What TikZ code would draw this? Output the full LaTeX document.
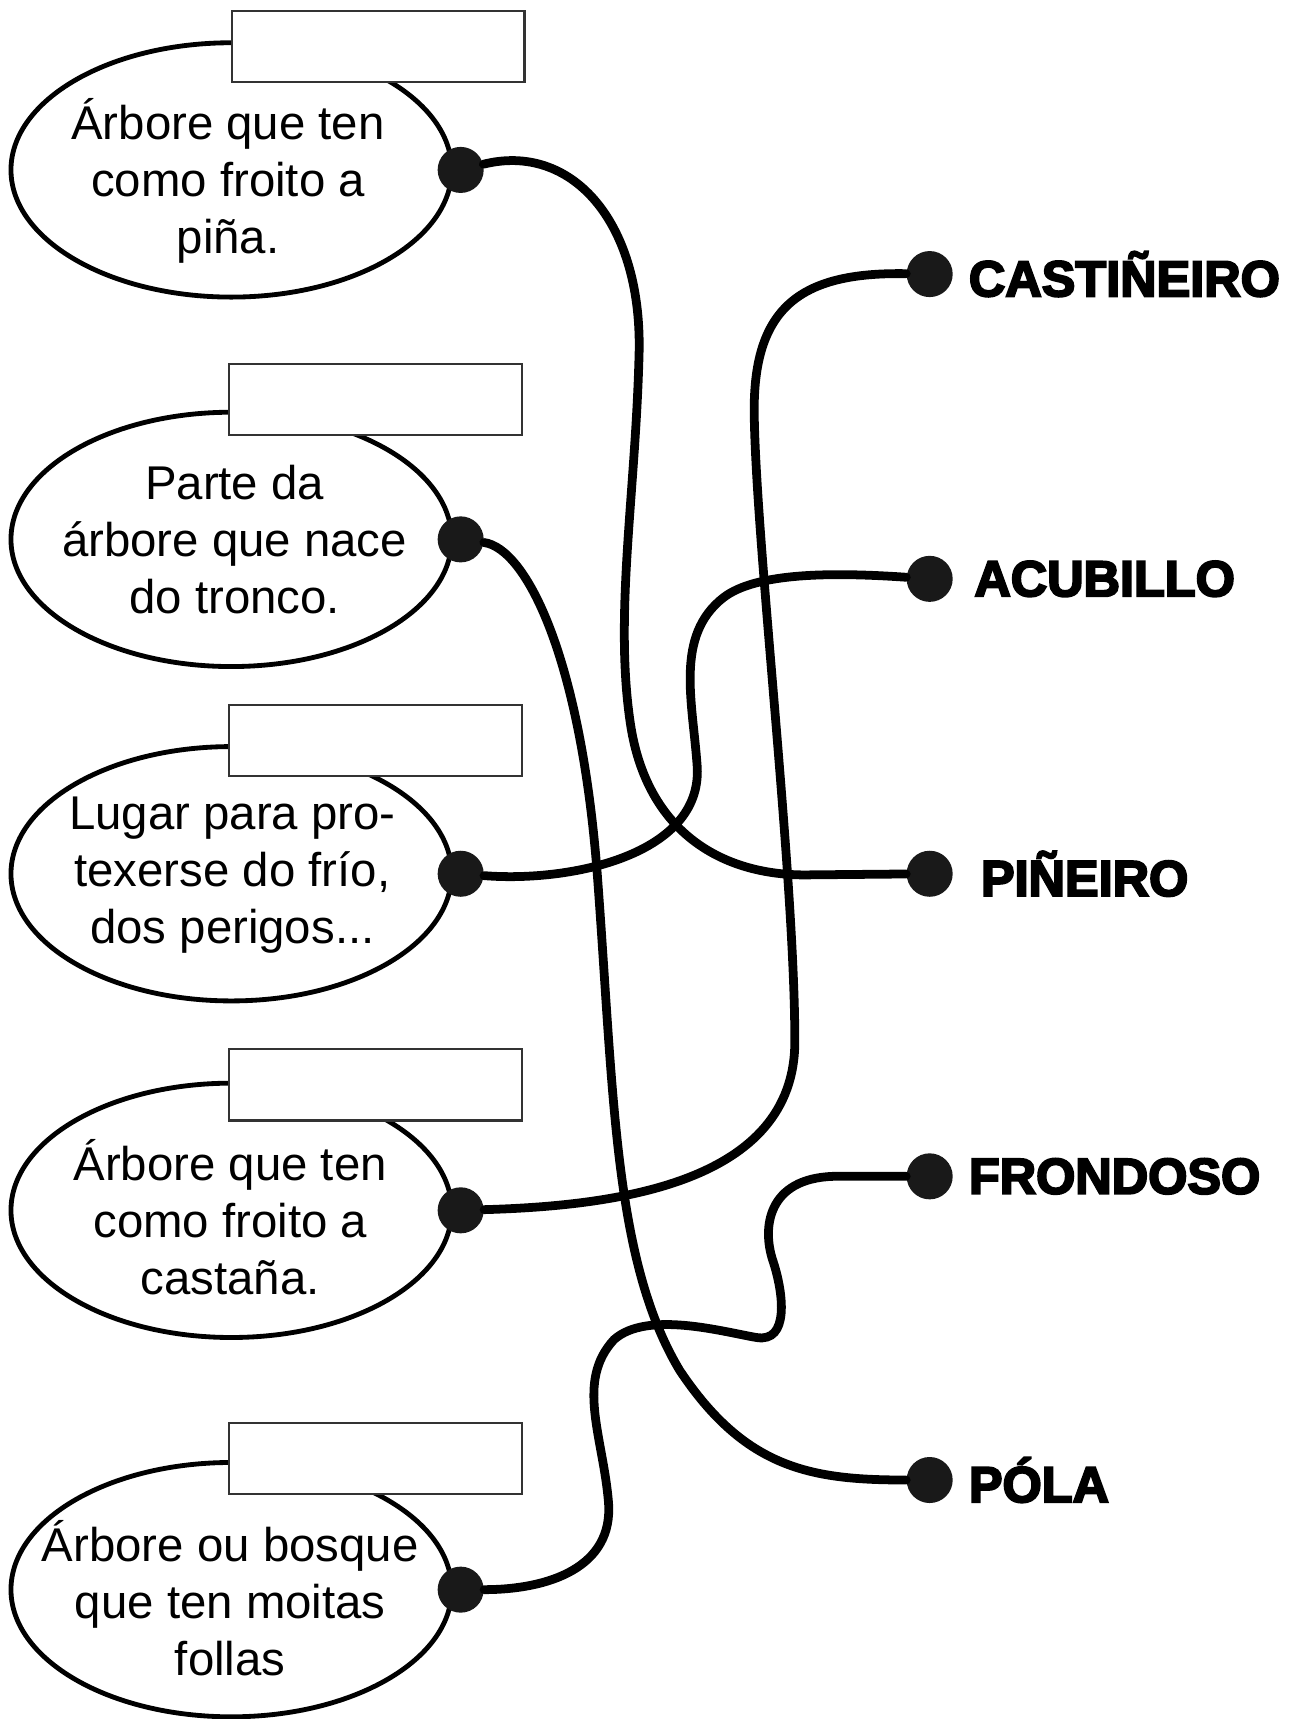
\documentclass[tikz,border=0pt]{standalone}
\usepackage{fontspec}
\setmainfont{Liberation Sans}
\newfontfamily\heavyfont[FakeBold=4]{Liberation Sans Bold}
\usetikzlibrary{shapes.geometric,positioning}

\begin{document}
\begin{tikzpicture}[x=0.5pt, y=0.5pt,
        bubble/.style={ellipse, draw, line width=2.2pt, minimum width=201pt, minimum height=116pt, inner sep=0pt},
        bubtext/.style={align=center, font=\fontsize{21.6}{26}\selectfont, inner sep=0pt},
        answer/.style={rectangle, draw=black!80, line width=1pt, fill=white, minimum width=133.5pt, minimum height=32.5pt, inner sep=0pt},
        knob/.style={circle, fill=black!90, minimum size=21pt, inner sep=0pt},
        word/.style={font=\heavyfont\fontsize{23}{26}\selectfont, inner sep=0pt},
        thread/.style={line width=4pt, line cap=round}]
        \useasboundingbox (0,0) rectangle (1181,-1568);

        % definitions on the left
        \node[bubble] (e1) at (211,-155) {};
        \node[bubble] (e2) at (211,-492) {};
        \node[bubble] (e3) at (211,-797) {};
        \node[bubble] (e4) at (211,-1104) {};
        \node[bubble] (e5) at (211,-1450) {};
        \node[bubtext] (t1) at (208,-165) {Árbore que ten\\como froito a\\piña.};
        \node[bubtext] (t2) at (214,-492) {Parte da\\árbore que nace\\do tronco.};
        \node[bubtext] (t3) at (212,-798) {Lugar para pro-\\texerse do frío,\\dos perigos...};
        \node[bubtext] (t4) at (210,-1110) {Árbore que ten\\como froito a\\castaña.};
        \node[bubtext] (t5) at (210,-1458) {Árbore ou bosque\\que ten moitas\\follas};
        \node[answer] (b1) at (345,-42.5) {};
        \node[answer] (b2) at (342.5,-364.5) {};
        \node[answer] (b3) at (342.5,-675.5) {};
        \node[answer] (b4) at (342.5,-989.5) {};
        \node[answer] (b5) at (342.5,-1330.5) {};
        \node[knob] (d1) at ([xshift=3pt]e1.east) {};
        \node[knob] (d2) at ([xshift=3pt]e2.east) {};
        \node[knob] (d3) at ([xshift=3pt]e3.east) {};
        \node[knob] (d4) at ([xshift=3pt]e4.east) {};
        \node[knob] (d5) at ([xshift=3pt]e5.east) {};

        % words on the right
        \node[knob] (r1) at (848,-250) {};
        \node[knob] (r2) at (848,-528) {};
        \node[knob] (r3) at (848,-797) {};
        \node[knob] (r4) at (848,-1073) {};
        \node[knob] (r5) at (848,-1350) {};
        \node[word, right=7pt of r1] (l1) {CASTIÑEIRO};
        \node[word, right=9.5pt of r2] (l2) {ACUBILLO};
        \node[word, right=12.5pt of r3] (l3) {PIÑEIRO};
        \node[word, right=7pt of r4] (l4) {FRONDOSO};
        \node[word, right=7pt of r5] (l5) {PÓLA};

        % the threads
        \draw[thread] (d1) .. controls (520,-130) and (585,-200) .. (583,-320)
            .. controls (580,-450) and (560,-560) .. (575,-660)
            .. controls (590,-760) and (660,-800) .. (740,-798) -- (r3);
        \draw[thread] (d2) .. controls (480,-500) and (530,-600) .. (545,-800)
            .. controls (560,-1000) and (560,-1150) .. (620,-1250)
            .. controls (680,-1340) and (740,-1350) .. (r5);
        \draw[thread] (d3) .. controls (520,-805) and (640,-780) .. (636,-700)
            .. controls (632,-640) and (615,-580) .. (660,-545)
            .. controls (690,-522) and (760,-522) .. (r2);
        \draw[thread] (d4) .. controls (560,-1100) and (725,-1080) .. (725,-950)
            .. controls (725,-800) and (690,-500) .. (688,-380)
            .. controls (686,-280) and (730,-248) .. (r1);
        \draw[thread] (d5) .. controls (500,-1450) and (560,-1430) .. (555,-1370)
            .. controls (550,-1310) and (525,-1260) .. (560,-1222)
            .. controls (590,-1195) and (660,-1215) .. (690,-1220)
            .. controls (720,-1225) and (715,-1180) .. (705,-1150)
            .. controls (695,-1120) and (700,-1075) .. (760,-1073) -- (r4);
    \end{tikzpicture}
\end{document}
